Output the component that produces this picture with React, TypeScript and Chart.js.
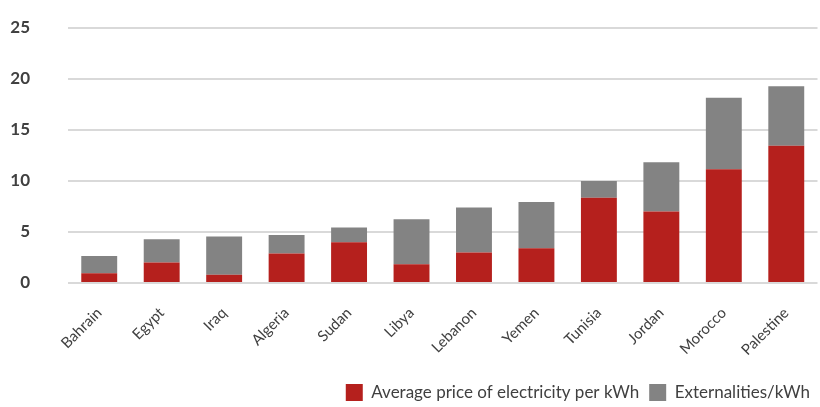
import { useEffect, useRef } from "react";
import { Chart, registerables } from "chart.js";

Chart.register(...registerables);

const countries = [
  "Bahrain", "Egypt", "Iraq", "Algeria", "Sudan", "Libya",
  "Lebanon", "Yemen", "Tunisia", "Jordan", "Morocco", "Palestine",
];

// Average price of electricity per kWh (US cents)
const avgPrice = [0.95, 2.0, 0.8, 2.9, 4.0, 1.85, 3.0, 3.4, 8.35, 7.0, 11.15, 13.45];

// Externalities per kWh, stacked on top of the price
const externalities = [1.7, 2.3, 3.75, 1.8, 1.45, 4.4, 4.4, 4.55, 1.65, 4.85, 7.0, 5.85];

const yTicks = [0, 5, 10, 15, 20, 25];

const seriesNames = ["Average price of electricity per kWh", "Externalities/kWh"];

const RED = "#b5201d";
const GREY = "#838383";
const FONT = "Lato, 'Open Sans', sans-serif";

export default function App() {
  const canvasRef = useRef<HTMLCanvasElement | null>(null);

  useEffect(() => {
    const canvas = canvasRef.current;
    if (!canvas) return;
    const chart = new Chart(canvas, {
      type: "bar",
      data: {
        labels: countries,
        datasets: [
          {
            label: seriesNames[0],
            data: avgPrice,
            backgroundColor: RED,
            borderWidth: 0,
            stack: "s",
          },
          {
            label: seriesNames[1],
            data: externalities,
            backgroundColor: GREY,
            borderWidth: 0,
            stack: "s",
          },
        ],
      },
      options: {
        responsive: false,
        animation: false,
        events: [],
        datasets: {
          bar: { categoryPercentage: 1, barPercentage: 0.575 },
        },
        layout: { padding: { top: 28, right: 0, bottom: -4, left: 0 } },
        plugins: {
          tooltip: { enabled: false },
          legend: {
            position: "bottom",
            align: "end",
            labels: {
              boxWidth: 17,
              boxHeight: 17,
              padding: 10,
              color: "#404040",
              font: { family: FONT, size: 17 },
            },
          },
        },
        scales: {
          x: {
            stacked: true,
            grid: { display: false, drawTicks: false },
            border: { display: false },
            ticks: {
              color: "#404040",
              font: { family: FONT, size: 15 },
              minRotation: 45,
              maxRotation: 45,
              padding: 21,
            },
            afterFit: (scale: any) => {
              scale.height = 91;
            },
          },
          y: {
            stacked: true,
            min: 0,
            max: 25,
            afterBuildTicks: (scale: any) => {
              scale.ticks = yTicks.map((v) => ({ value: v }));
            },
            grid: { color: "#d9d9d9", lineWidth: 2, drawTicks: false },
            border: { display: false },
            ticks: {
              color: "#404040",
              font: { family: FONT, size: 17, weight: "bold" },
              padding: 38,
            },
            afterFit: (scale: any) => {
              // fixed label column; the wide tick padding should not reserve vertical room
              scale.width = 68;
              scale.paddingTop = 0;
              scale.paddingBottom = 0;
            },
          },
        },
      },
    });
    return () => chart.destroy();
  }, []);

  return (
    <div style={{ position: "fixed", left: 0, top: 0, width: 820, height: 407, background: "#fff" }}>
      <canvas ref={canvasRef} width={820} height={407} />
    </div>
  );
}
